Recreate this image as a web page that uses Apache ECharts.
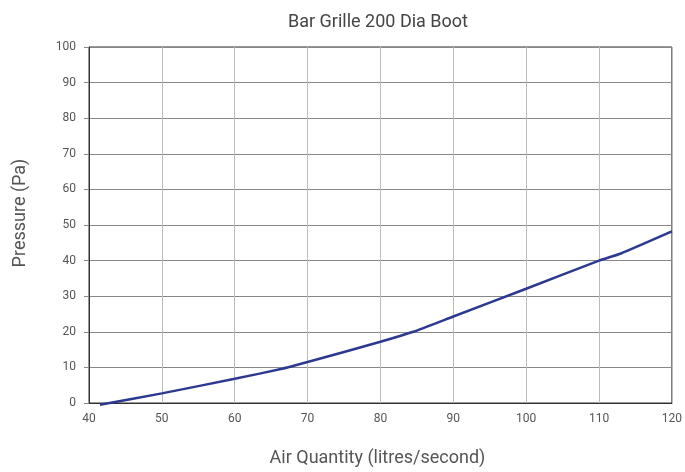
<!DOCTYPE html>
<html><head><meta charset="utf-8">
<script src="https://cdn.jsdelivr.net/npm/echarts@6/dist/echarts.min.js"></script>
<style>html,body{margin:0;padding:0;background:#fff}#c{width:685px;height:472px}</style>
</head><body><div id="c"></div>
<script>
const titleText = "Bar Grille 200 Dia Boot";
const xName = "Air Quantity (litres/second)";
const yName = "Pressure (Pa)";
const airQuantity = [41.5, 50, 60, 66.5, 70, 80, 84.5, 90, 100, 110, 113, 120];
const pressure = [-0.5, 2.7, 6.8, 9.6, 11.5, 17.2, 20, 24.3, 32.1, 40, 42, 48.2];

const chart = echarts.init(document.getElementById('c'), null, {renderer: 'canvas'});
const font = 'Roboto, "Noto Sans", sans-serif';
chart.setOption({
  animation: false,
  backgroundColor: '#fff',
  title: {text: titleText, left: 373, top: 8, textAlign: 'center',
    textStyle: {fontFamily: font, fontSize: 18, fontWeight: 'normal', color: '#444'}},
  grid: {left: 89, right: 10, top: 47, bottom: 68, show: true, borderColor: '#333', borderWidth: 1},
  xAxis: {type: 'value', min: 40, max: 120, interval: 10,
    name: xName, nameLocation: 'middle', nameGap: 46,
    nameTextStyle: {fontFamily: font, fontSize: 18, color: '#555', padding: [0, 6, 0, 0]},
    axisLine: {show: true, onZero: false, lineStyle: {color: '#333', width: 1}},
    axisTick: {show: false},
    axisLabel: {fontFamily: font, fontSize: 12, color: '#555', margin: 10},
    splitLine: {show: true, lineStyle: {color: '#bbb', width: 1}}},
  yAxis: {type: 'value', min: 0, max: 100, interval: 10,
    name: yName, nameLocation: 'middle', nameGap: 60, nameRotate: 90,
    nameTextStyle: {fontFamily: font, fontSize: 18, color: '#555', padding: [0, 0, 0, 24]},
    axisLine: {show: true, lineStyle: {color: '#333', width: 1}},
    axisTick: {show: true, length: 5, lineStyle: {color: '#888'}},
    axisLabel: {fontFamily: font, fontSize: 12, color: '#555', margin: 13},
    splitLine: {show: true, lineStyle: {color: '#888', width: 1}}},
  series: [{type: 'line', data: airQuantity.map((x, i) => [x, pressure[i]]),
    showSymbol: false, smooth: 0.15, clip: false,
    lineStyle: {color: '#2b3990', width: 2.5}}]
});
</script></body></html>
